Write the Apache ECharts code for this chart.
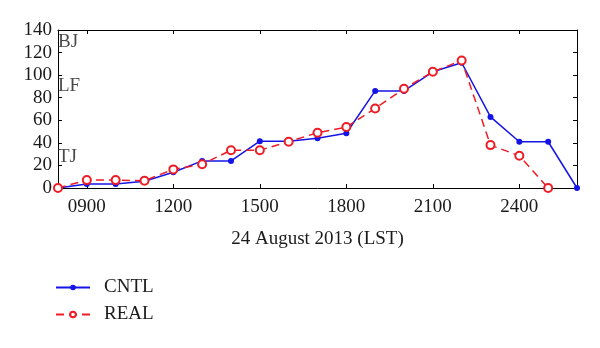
<!DOCTYPE html>
<html>
<head>
<meta charset="utf-8">
<script src="https://cdn.jsdelivr.net/npm/echarts@6/dist/echarts.min.js"></script>
<style>
  html, body { margin: 0; padding: 0; background: #ffffff; }
  #chart { width: 600px; height: 348px; }
</style>
</head>
<body>
<div id="chart"></div>
<script>
// Time of day (LST, hhmm) for each sample
const hours = [800, 900, 1000, 1100, 1200, 1300, 1400, 1500, 1600, 1700, 1800, 1900, 2000, 2100, 2200, 2300, 2400, 2500, 2600];
// CNTL experiment
const cntl = [0, 3.5, 3.5, 6, 14, 24, 24, 41.5, 41.5, 44, 48.5, 86, 86, 103, 111, 63, 41, 41, 0];
// REAL experiment (no value at 2600)
const real = [0, 7, 7, 6.5, 16.5, 21, 33.5, 33.5, 41, 49, 54, 70.5, 88, 103, 113, 38, 28.5, 0, null];
// X tick labels
const xTicks = [900, 1200, 1500, 1800, 2100, 2400];
// Y tick labels
const yTicks = [0, 20, 40, 60, 80, 100, 120, 140];
// Station annotations and their levels
const siteNames = ['BJ', 'LF', 'TJ'];
const siteLevels = [129, 90, 27.5];

const FONT = '"Liberation Serif", "DejaVu Serif", serif';
const BLUE = '#1414e6';
const RED = '#ee1c24';

function pairs(xs, ys) {
  const out = [];
  for (let i = 0; i < xs.length; i++) {
    if (ys[i] !== null && ys[i] !== undefined) out.push([xs[i], ys[i]]);
  }
  return out;
}
function pad(v) { const s = String(v); return s.length < 4 ? '0'.repeat(4 - s.length) + s : s; }

const chart = echarts.init(document.getElementById('chart'), null, { renderer: 'canvas' });

const axisLine = { show: true, onZero: false, lineStyle: { color: '#000', width: 1 } };
const tickStyle = { lineStyle: { color: '#000', width: 1 } };

chart.setOption({
  animation: false,
  backgroundColor: '#ffffff',
  grid: { left: 58, right: 23, top: 30, bottom: 160, containLabel: false },
  xAxis: [
    {
      type: 'value', position: 'bottom', min: 800, max: 2600,
      axisLine: axisLine,
      axisTick: Object.assign({ show: true, inside: true, length: 4, customValues: xTicks }, tickStyle),
      axisLabel: { show: true, customValues: xTicks, formatter: v => pad(v), margin: 10,
        fontFamily: FONT, fontSize: 19, color: '#1a1a1a' },
      splitLine: { show: false },
      name: '24 August 2013 (LST)', nameLocation: 'middle', nameGap: 42,
      nameTextStyle: { fontFamily: FONT, fontSize: 19, color: '#1a1a1a' }
    },
    {
      type: 'value', position: 'top', min: 800, max: 2600,
      axisLine: axisLine,
      axisTick: Object.assign({ show: true, inside: true, length: 4, customValues: xTicks }, tickStyle),
      axisLabel: { show: false },
      splitLine: { show: false }
    }
  ],
  yAxis: [
    {
      type: 'value', position: 'left', min: 0, max: 140, interval: 20,
      axisLine: axisLine,
      axisTick: Object.assign({ show: true, inside: true, length: 4, customValues: yTicks }, tickStyle),
      axisLabel: { show: true, customValues: yTicks, margin: 6,
        fontFamily: FONT, fontSize: 19, color: '#1a1a1a' },
      splitLine: { show: false }
    },
    {
      type: 'value', position: 'right', min: 0, max: 140, interval: 20,
      axisLine: axisLine,
      axisTick: Object.assign({ show: true, inside: true, length: 4, customValues: yTicks }, tickStyle),
      axisLabel: { show: false },
      splitLine: { show: false }
    }
  ],
  legend: {
    orient: 'vertical', left: 55, top: 278, height: 70, padding: 0,
    itemWidth: 34, itemHeight: 7, itemGap: 8,
    data: ['CNTL', 'REAL'],
    textStyle: { fontFamily: FONT, fontSize: 19, color: '#1a1a1a', padding: [0, 0, 0, 9] }
  },
  series: [
    {
      name: 'sites', type: 'scatter', xAxisIndex: 0, yAxisIndex: 0,
      symbolSize: 0, silent: true,
      data: siteNames.map((n, i) => ({ value: [800, siteLevels[i]], name: n })),
      label: { show: true, position: 'right', distance: 0, formatter: p => p.name,
        fontFamily: FONT, fontSize: 19, color: '#1a1a1a' }
    },
    {
      name: 'CNTL', type: 'line', xAxisIndex: 0, yAxisIndex: 0,
      data: pairs(hours, cntl), clip: false,
      symbol: 'circle', symbolSize: 6,
      itemStyle: { color: BLUE },
      lineStyle: { color: BLUE, width: 1.5, type: 'solid' }
    },
    {
      name: 'REAL', type: 'line', xAxisIndex: 0, yAxisIndex: 0,
      data: pairs(hours, real), clip: false,
      symbol: 'emptyCircle', symbolSize: 8,
      itemStyle: { color: RED, borderColor: RED, borderWidth: 1.5 },
      lineStyle: { color: RED, width: 1.5, type: [8, 5] }
    }
  ]
});
</script>
</body>
</html>
